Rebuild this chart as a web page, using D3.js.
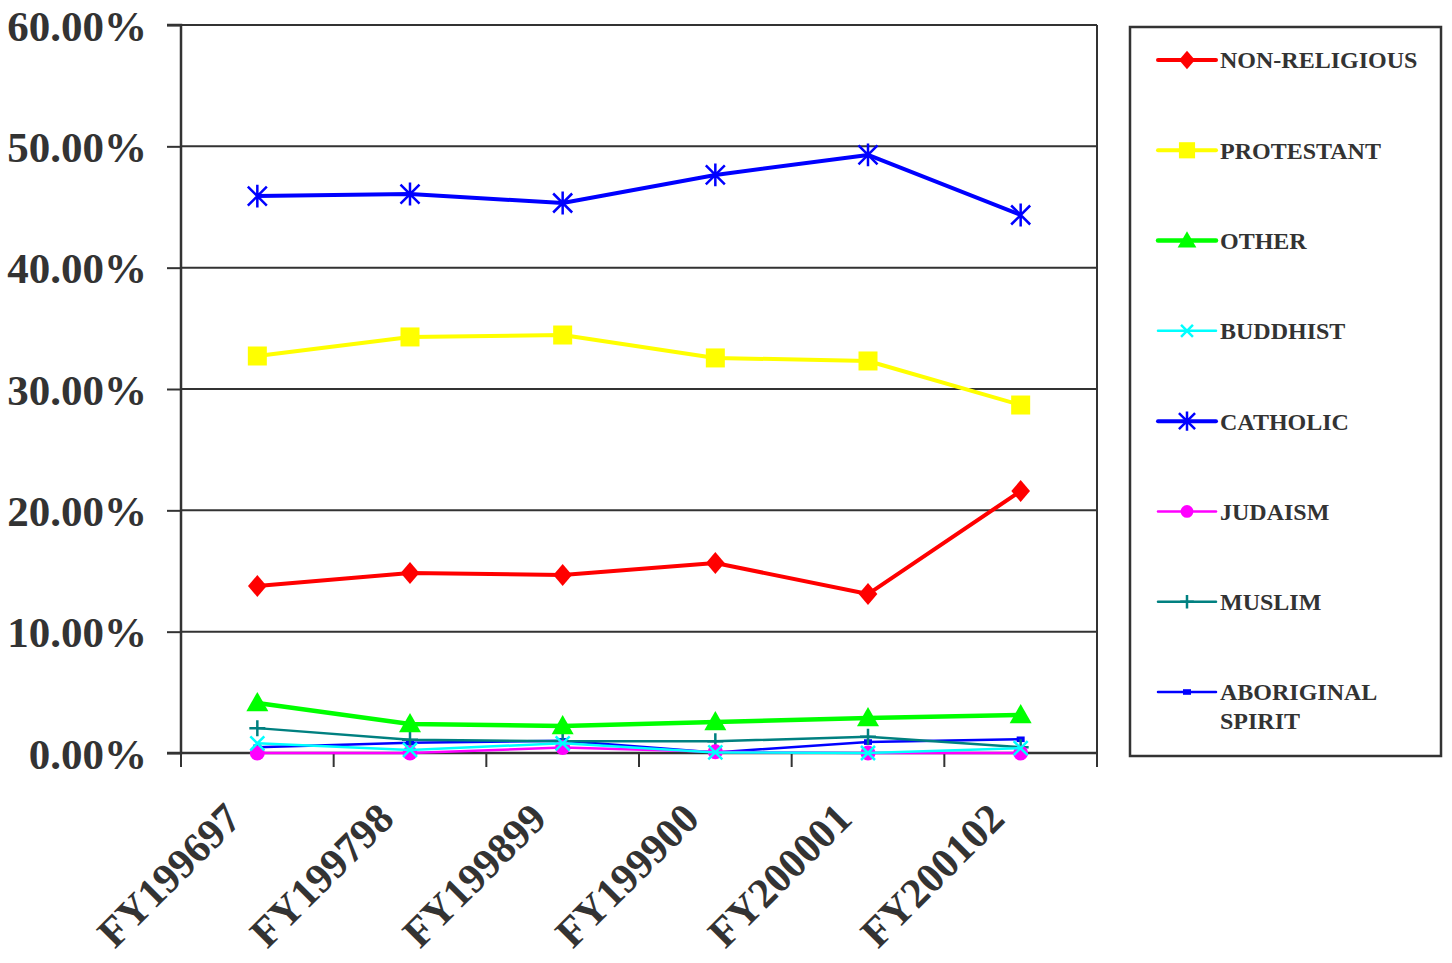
<!DOCTYPE html>
<html>
<head>
<meta charset="utf-8">
<script src="https://cdn.jsdelivr.net/npm/d3@7"></script>
<style>
  html, body { margin: 0; padding: 0; background: #fff; }
  svg text { font-family: "Liberation Serif", "Times New Roman", serif; font-weight: bold; fill: #333; }
</style>
</head>
<body>
<svg id="chart" width="1452" height="963"></svg>
<script>
// Fiscal years
const categories = ["FY199697", "FY199798", "FY199899", "FY199900", "FY200001", "FY200102"];

// Share of clients by religion (fraction of total)
const nonReligious = [0.1376, 0.1484, 0.1467, 0.1566, 0.1310, 0.2159];
const protestant   = [0.3272, 0.3429, 0.3445, 0.3256, 0.3231, 0.2868];
const other        = [0.0412, 0.0239, 0.0223, 0.0255, 0.0288, 0.0313];
const buddhist     = [0.0080, 0.0025, 0.0080, 0.0005, 0.0000, 0.0040];
const catholic     = [0.4590, 0.4607, 0.4533, 0.4764, 0.4929, 0.4434];
const judaism      = [0.0000, 0.0000, 0.0045, 0.0010, 0.0000, 0.0000];
const muslim       = [0.0205, 0.0110, 0.0097, 0.0097, 0.0133, 0.0047];
const aboriginal   = [0.0047, 0.0085, 0.0100, 0.0005, 0.0090, 0.0113];

const yTicks = [0, 0.1, 0.2, 0.3, 0.4, 0.5, 0.6];

const series = [
  { name: ["NON-RELIGIOUS"], values: nonReligious, color: "#ff0000", width: 4, marker: "diamond", size: 11 },
  { name: ["PROTESTANT"], values: protestant, color: "#ffff00", width: 4, marker: "square", size: 9.5 },
  { name: ["OTHER"], values: other, color: "#00ff00", width: 4.5, marker: "triangle", size: 11 },
  { name: ["BUDDHIST"], values: buddhist, color: "#00ffff", width: 2.5, marker: "x", size: 7 },
  { name: ["CATHOLIC"], values: catholic, color: "#0000ff", width: 4, marker: "star", size: 9.5 },
  { name: ["JUDAISM"], values: judaism, color: "#ff00ff", width: 2.5, marker: "circle", size: 7.5 },
  { name: ["MUSLIM"], values: muslim, color: "#008080", width: 2.5, marker: "plus", size: 8 },
  { name: ["ABORIGINAL", "SPIRIT"], values: aboriginal, color: "#0000ff", width: 2.5, marker: "rect", size: 4 }
];

// Series are drawn back-to-front in this order
const drawOrder = [7, 6, 5, 3, 0, 1, 2, 4];

const svg = d3.select("#chart");
const plotLeft = 181, plotRight = 1097, plotTop = 25, plotBottom = 753;

const x = d3.scaleBand().domain(categories).range([plotLeft, plotRight]);
const y = d3.scaleLinear().domain([0, 0.6]).range([plotBottom, plotTop]);
const cx = d => x(d) + x.bandwidth() / 2;

const axisColor = "#333";

// Horizontal gridlines
svg.append("g").selectAll("line").data(yTicks.filter(t => t > 0)).join("line")
  .attr("x1", plotLeft).attr("x2", plotRight)
  .attr("y1", d => y(d)).attr("y2", d => y(d))
  .attr("stroke", axisColor).attr("stroke-width", 2);

// Right edge of plot area
svg.append("line").attr("x1", plotRight).attr("x2", plotRight).attr("y1", plotTop).attr("y2", plotBottom)
  .attr("stroke", axisColor).attr("stroke-width", 2);

// Y axis
const yAxis = d3.axisLeft(y).tickValues(yTicks).tickFormat(d3.format(".2%")).tickSize(14).tickPadding(20);
const gy = svg.append("g").attr("transform", `translate(${plotLeft},0)`).call(yAxis);
gy.attr("font-family", null).attr("font-size", null);
gy.select(".domain").attr("stroke", axisColor).attr("stroke-width", 2.5).attr("d", `M-14,${plotTop}H0V${plotBottom}H-14`);
gy.selectAll(".tick line").attr("stroke", axisColor).attr("stroke-width", 2);
gy.selectAll(".tick text").style("font-size", "43px").attr("dy", "0.35em").attr("fill", "#333");

// X axis with tick marks at band edges
const gx = svg.append("g").attr("transform", `translate(0,${plotBottom})`);
gx.append("line").attr("x1", plotLeft).attr("x2", plotRight).attr("stroke", axisColor).attr("stroke-width", 2.5);
const edges = categories.map(c => x(c)).concat([plotRight]);
gx.selectAll(".edge").data(edges).join("line").attr("class", "edge")
  .attr("x1", d => d).attr("x2", d => d).attr("y1", 0).attr("y2", 14)
  .attr("stroke", axisColor).attr("stroke-width", 2);
gx.selectAll(".lbl").data(categories).join("text").attr("class", "lbl")
  .attr("transform", d => `translate(${cx(d) - 14},${68}) rotate(-45)`)
  .attr("text-anchor", "end")
  .style("font-size", "42px")
  .text(d => d);

// Marker drawing
function marker(g, type, s, color) {
  switch (type) {
    case "diamond":
      g.append("path").attr("d", `M0,${-s}L${s * 0.85},0L0,${s}L${-s * 0.85},0Z`).attr("fill", color);
      break;
    case "square":
      g.append("rect").attr("x", -s).attr("y", -s).attr("width", 2 * s).attr("height", 2 * s).attr("fill", color);
      break;
    case "triangle":
      g.append("path").attr("d", `M0,${-s}L${s},${s * 0.75}L${-s},${s * 0.75}Z`).attr("fill", color);
      break;
    case "circle":
      g.append("circle").attr("r", s).attr("fill", color);
      break;
    case "x":
      g.append("path").attr("d", `M${-s},${-s}L${s},${s}M${s},${-s}L${-s},${s}`).attr("stroke", color).attr("stroke-width", 2.5);
      break;
    case "plus":
      g.append("path").attr("d", `M${-s},0L${s},0M0,${-s}L0,${s}`).attr("stroke", color).attr("stroke-width", 2.5);
      break;
    case "star":
      g.append("path").attr("d", `M${-s},${-s}L${s},${s}M${s},${-s}L${-s},${s}M0,${-s * 1.2}L0,${s * 1.2}`).attr("stroke", color).attr("stroke-width", 2.5);
      break;
    case "rect":
      g.append("rect").attr("x", -s).attr("y", -s * 0.7).attr("width", 2 * s).attr("height", 1.4 * s).attr("fill", color);
      break;
  }
}

const line = d3.line().x((d, i) => cx(categories[i])).y(d => y(d));

const plot = svg.append("g");
drawOrder.forEach(k => {
  const s = series[k];
  const g = plot.append("g");
  g.append("path").attr("d", line(s.values)).attr("fill", "none")
    .attr("stroke", s.color).attr("stroke-width", s.width).attr("stroke-linejoin", "round");
  s.values.forEach((v, i) => {
    marker(g.append("g").attr("transform", `translate(${cx(categories[i])},${y(v)})`), s.marker, s.size, s.color);
  });
});

// Legend
const legend = svg.append("g");
legend.append("rect").attr("x", 1130).attr("y", 27).attr("width", 311).attr("height", 729)
  .attr("fill", "#fff").attr("stroke", axisColor).attr("stroke-width", 2.5);
const legendY = d3.scalePoint().domain(series.map((s, i) => i)).range([60, 692]);
series.forEach((s, i) => {
  const ly = legendY(i);
  const g = legend.append("g").attr("transform", `translate(0,${ly})`);
  g.append("line").attr("x1", 1158).attr("x2", 1216).attr("stroke", s.color)
    .attr("stroke-width", s.width).attr("stroke-linecap", "round");
  const sz = s.marker === "rect" ? s.size : s.size * 0.85;
  marker(g.append("g").attr("transform", `translate(1187,0)`), s.marker, sz, s.color);
  s.name.forEach((t, j) => {
    g.append("text").attr("x", 1220).attr("y", j * 29).attr("dy", "0.35em")
      .style("font-size", "24px").text(t);
  });
});
</script>
</body>
</html>
